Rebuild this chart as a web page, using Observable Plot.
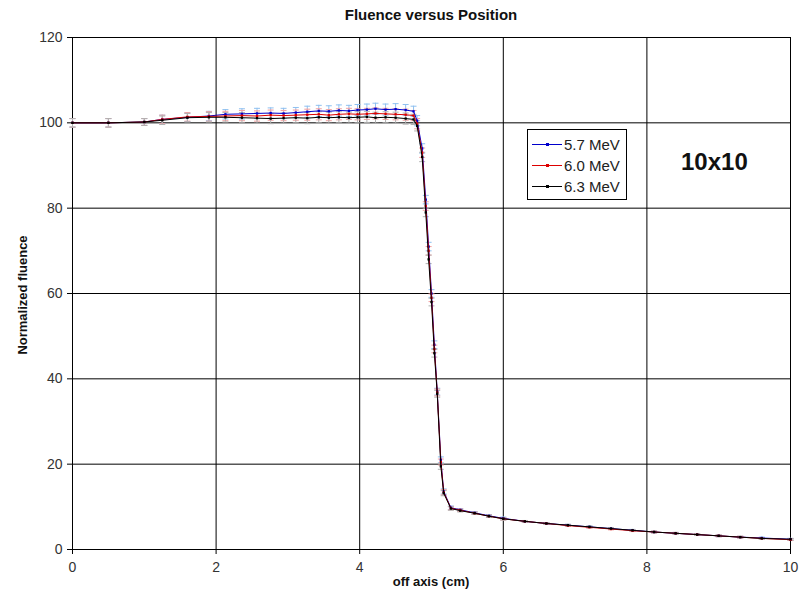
<!DOCTYPE html>
<html>
<head>
<meta charset="utf-8">
<script src="https://cdn.jsdelivr.net/npm/d3@7"></script>
<script src="https://cdn.jsdelivr.net/npm/@observablehq/plot@0.6"></script>
<style>
  body { margin: 0; background: #fff; font-family: Arial, "Liberation Sans", sans-serif; }
  #wrap { position: relative; width: 804px; height: 596px; }
  #chart svg { display: block; }
  .title { position: absolute; left: 72px; width: 718px; top: 6px; text-align: center; font-weight: bold; font-size: 15px; color: #111; }
  .xlabel { position: absolute; left: 72px; width: 718px; top: 574px; text-align: center; font-weight: bold; font-size: 13px; color: #111; }
  .ylabel { position: absolute; left: 22px; top: 295px; transform: translate(-50%, -50%) rotate(-90deg); white-space: nowrap; font-weight: bold; font-size: 13px; color: #111; }
  .legend { position: absolute; left: 527px; top: 129px; width: 98px; height: 69px; border: 1px solid #000; background: #fff; }
  .legend .row { position: absolute; left: 0; height: 20px; display: flex; align-items: center; font-size: 15px; color: #222; }
  .legend .sw { position: relative; width: 30px; height: 1px; margin-left: 4px; margin-right: 2px; }
  .legend .sw i { position: absolute; left: 14px; top: -1px; width: 3px; height: 3px; }
  .tag { position: absolute; left: 681px; top: 148px; font-weight: bold; font-size: 24px; color: #111; }
</style>
</head>
<body>
<div id="wrap">
  <div id="chart"></div>
  <div class="title">Fluence versus Position</div>
  <div class="xlabel">off axis (cm)</div>
  <div class="ylabel">Normalized fluence</div>
  <div class="legend" id="legend"></div>
  <div class="tag">10x10</div>
</div>
<script>
// ---- data ----
const positions = [0, 0.5, 1.0, 1.25, 1.6, 1.9, 2.13, 2.36, 2.57, 2.76, 2.94, 3.11, 3.27, 3.43, 3.57, 3.71, 3.85, 3.97, 4.1, 4.22, 4.36, 4.5, 4.64, 4.75, 4.8, 4.87, 4.92, 4.96, 5.0, 5.04, 5.08, 5.13, 5.17, 5.27, 5.4, 5.6, 5.8, 6.0, 6.3, 6.6, 6.9, 7.2, 7.5, 7.8, 8.1, 8.4, 8.7, 9.0, 9.3, 9.6, 10.0];

const fluence57 = [100.0, 100.0, 100.2, 100.8, 101.3, 101.6, 102.0, 102.1, 102.2, 102.3, 102.2, 102.4, 102.6, 102.8, 102.7, 102.9, 102.8, 103.0, 103.1, 103.3, 103.1, 103.2, 103.0, 102.7, 100.5, 94.0, 82.0, 71.0, 60.0, 48.0, 37.0, 21.0, 13.6, 9.8, 9.3, 8.6, 7.9, 7.3, 6.6, 6.1, 5.7, 5.3, 4.9, 4.5, 4.1, 3.8, 3.5, 3.2, 2.9, 2.7, 2.4];

const fluence60 = [100.0, 100.0, 100.2, 100.8, 101.4, 101.5, 101.6, 101.7, 101.6, 101.8, 101.7, 101.8, 101.9, 102.0, 101.8, 102.0, 102.1, 102.0, 102.1, 102.2, 102.1, 102.0, 101.9, 101.7, 99.8, 93.0, 80.5, 70.0, 59.0, 47.0, 36.8, 20.5, 13.4, 9.7, 9.2, 8.5, 7.8, 7.2, 6.6, 6.1, 5.6, 5.2, 4.8, 4.4, 4.1, 3.8, 3.5, 3.2, 2.9, 2.6, 2.3];

const fluence63 = [100.0, 100.0, 100.2, 100.6, 101.2, 101.3, 101.3, 101.2, 101.1, 101.0, 101.1, 101.2, 101.1, 101.3, 101.2, 101.3, 101.2, 101.3, 101.4, 101.2, 101.3, 101.2, 101.0, 100.8, 99.3, 92.0, 79.0, 68.0, 58.0, 46.0, 36.5, 19.5, 13.2, 9.6, 9.1, 8.5, 7.8, 7.2, 6.6, 6.1, 5.7, 5.3, 4.9, 4.5, 4.1, 3.8, 3.5, 3.2, 2.9, 2.6, 2.4];

const errorBars = [1.0, 1.0, 0.8, 1.0, 1.0, 1.1, 1.1, 1.2, 1.2, 1.2, 1.2, 1.2, 1.3, 1.3, 1.3, 1.3, 1.3, 1.3, 1.3, 1.3, 1.3, 1.3, 1.3, 1.2, 1.2, 1.1, 1.0, 1.0, 0.9, 0.9, 0.8, 0.7, 0.6, 0.4, 0.3, 0.3, 0.3, 0.3, 0.2, 0.2, 0.2, 0.2, 0.2, 0.2, 0.2, 0.2, 0.2, 0.2, 0.2, 0.2, 0.2];

const seriesNames = ["5.7 MeV", "6.0 MeV", "6.3 MeV"];
const seriesValues = [fluence57, fluence60, fluence63];
const lineColors = ["#0000cc", "#dd0000", "#000000"];
const errColors = ["#8fc0f0", "#f2a0a0", "#b0b0b0"];

const xTicks = [0, 2, 4, 6, 8, 10];
const yTicks = [0, 20, 40, 60, 80, 100, 120];

// ---- build tables ----
const series = seriesNames.map((name, s) => ({
  name,
  color: lineColors[s],
  err: errColors[s],
  rows: positions.map((x, i) => ({ x, y: seriesValues[s][i], e: errorBars[i], series: name }))
}));

const capSymbol = {
  draw(context, size) {
    const r = Math.sqrt(size / Math.PI);
    context.moveTo(-r, 0);
    context.lineTo(r, 0);
  }
};

const marks = [
  Plot.gridX(xTicks.slice(1, -1), { stroke: "#000", strokeOpacity: 1, strokeWidth: 1 }),
  Plot.gridY(yTicks.slice(1, -1), { stroke: "#000", strokeOpacity: 1, strokeWidth: 1 }),
  Plot.frame({ stroke: "#000", strokeWidth: 1 })
];

for (const s of series) {
  marks.push(
    Plot.ruleX(s.rows, { x: "x", y1: d => d.y - d.e, y2: d => d.y + d.e, stroke: s.err, strokeWidth: 1 }),
    Plot.dot(s.rows, { x: "x", y: d => d.y + d.e, symbol: capSymbol, r: 3, stroke: s.err, strokeWidth: 1 }),
    Plot.dot(s.rows, { x: "x", y: d => d.y - d.e, symbol: capSymbol, r: 3, stroke: s.err, strokeWidth: 1 })
  );
}
for (const s of series) {
  marks.push(
    Plot.line(s.rows, { x: "x", y: "y", stroke: s.color, strokeWidth: 1 }),
    Plot.dot(s.rows, { x: "x", y: "y", symbol: "square", r: 1.3, fill: s.color, stroke: "none" })
  );
}

marks.push(
  Plot.axisX(xTicks, { tickSize: 5, tickPadding: 8, fontSize: 14, color: "#333", stroke: "#000", label: null, tickFormat: d => String(d) }),
  Plot.axisY(yTicks, { tickSize: 5, tickPadding: 5, fontSize: 14, color: "#333", stroke: "#000", label: null, tickFormat: d => String(d) })
);

const chart = Plot.plot({
  width: 804,
  height: 596,
  marginLeft: 72,
  marginRight: 14,
  marginTop: 37,
  marginBottom: 47,
  style: { fontFamily: "Arial, 'Liberation Sans', sans-serif", background: "#fff" },
  x: { domain: [0, 10] },
  y: { domain: [0, 120] },
  marks
});
document.getElementById("chart").appendChild(chart);

// ---- legend ----
const legend = document.getElementById("legend");
seriesNames.forEach((name, i) => {
  const row = document.createElement("div");
  row.className = "row";
  row.style.top = (4 + i * 21) + "px";
  const sw = document.createElement("span");
  sw.className = "sw";
  sw.style.background = lineColors[i];
  const dot = document.createElement("i");
  dot.style.background = lineColors[i];
  sw.appendChild(dot);
  const label = document.createElement("span");
  label.textContent = name;
  row.appendChild(sw);
  row.appendChild(label);
  legend.appendChild(row);
});
</script>
</body>
</html>
